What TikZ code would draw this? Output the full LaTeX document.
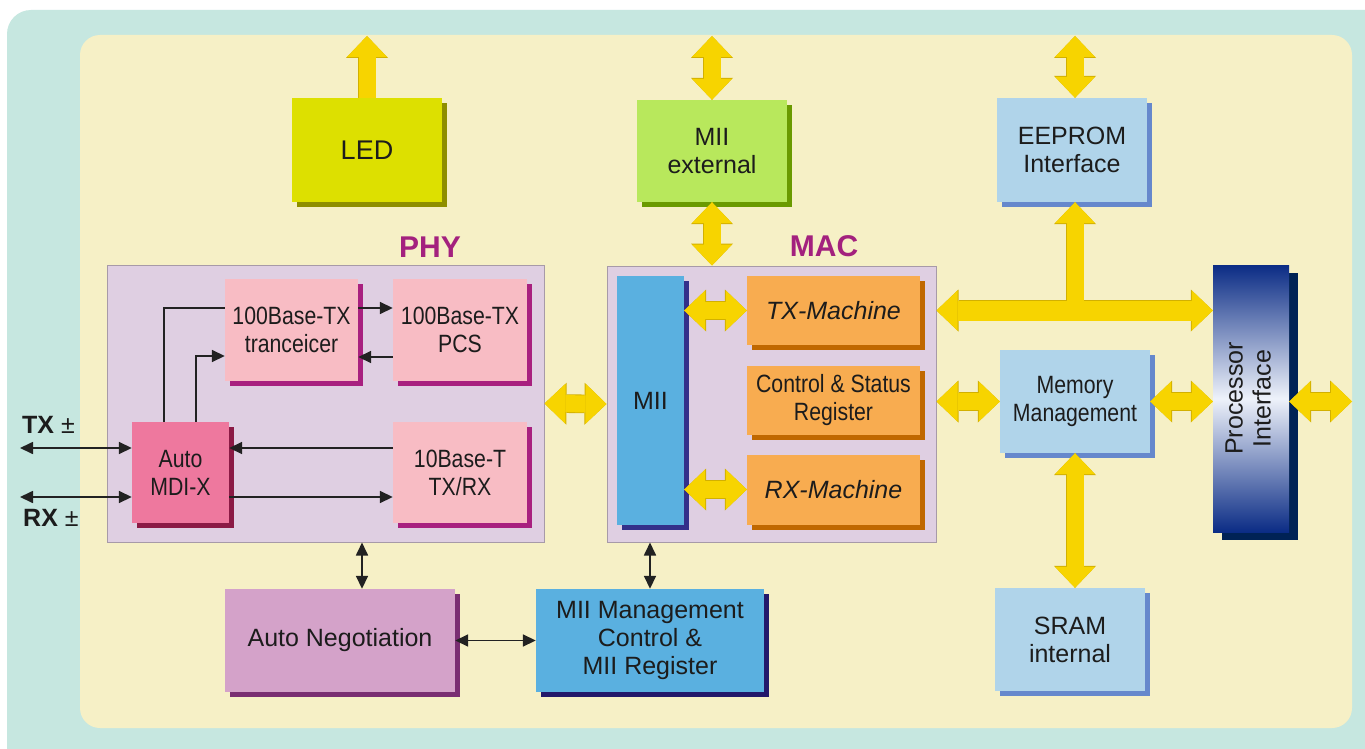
\documentclass[tikz,border=0pt]{standalone}
\usepackage{fontspec}
\setmainfont{Liberation Sans}
\newfontfamily\narrowfont{Liberation Sans}[FakeStretch=0.85]
\usetikzlibrary{arrows.meta,shadows}
\definecolor{tealbg}{HTML}{C6E7E0}
\definecolor{creambg}{HTML}{F6F0C6}
\definecolor{grpfill}{HTML}{DFCFE2}
\definecolor{grpline}{HTML}{A79AA8}
\definecolor{ledc}{HTML}{DDE000}
\definecolor{ledsh}{HTML}{8E8E00}
\definecolor{grnc}{HTML}{B8E85C}
\definecolor{grnsh}{HTML}{6A9A00}
\definecolor{ltblue}{HTML}{B0D4EA}
\definecolor{ltbluesh}{HTML}{6688CC}
\definecolor{pinkc}{HTML}{F8BCC4}
\definecolor{pinksh}{HTML}{A8207F}
\definecolor{mdic}{HTML}{EE789E}
\definecolor{mdish}{HTML}{8B1A45}
\definecolor{miic}{HTML}{5AB0E0}
\definecolor{miish}{HTML}{33308A}
\definecolor{orc}{HTML}{F8AC50}
\definecolor{orsh}{HTML}{C06800}
\definecolor{anegc}{HTML}{D4A2C9}
\definecolor{anegsh}{HTML}{7A2E72}
\definecolor{mgmtsh}{HTML}{23186A}
\definecolor{navy}{HTML}{0B2C85}
\definecolor{navysh}{HTML}{002255}
\definecolor{procmid}{HTML}{EEF2FA}
\definecolor{arrowY}{HTML}{F7D400}
\definecolor{arrowE}{HTML}{D2B000}
\definecolor{magc}{HTML}{A3217E}
\definecolor{textc}{HTML}{1C1C1C}
\definecolor{linec}{HTML}{222222}
\newcommand\fatconn[3]{\draw[fatedge,#1] #2 -- #3; \draw[fatline,#1] #2 -- #3;}
\begin{document}
\begin{tikzpicture}[x=1pt,y=-1pt,
  box/.style={draw=none, inner sep=0pt, align=center, text=textc,
    font=\fontsize{25}{28}\selectfont},
  nbox/.style={box, font=\narrowfont\fontsize{25}{28}\selectfont},
  shad/.style={general shadow={fill=#1, shadow xshift=5pt, shadow yshift=-5pt}},
  grp/.style={draw=grpline, line width=1pt, fill=grpfill, inner sep=0pt},
  fatline/.style={line width=17pt, draw=arrowY,
    >={Triangle[width=40pt,length=21pt,line width=0pt]}},
  fatedge/.style={line width=18.6pt, draw=arrowE,
    >={Triangle[width=42pt,length=22pt,line width=0pt]}},
  thinarr/.style={draw=linec, line width=1.7pt,
    >={Triangle[length=13pt,width=12pt]}},
  grplabel/.style={text=magc, font=\fontsize{30}{34}\selectfont\bfseries},
  extlabel/.style={text=textc, anchor=base west, inner sep=0pt, font=\fontsize{25}{28}\selectfont}
]
\path[use as bounding box] (0,0) rectangle (1365,749);
\clip (0,0) rectangle (1365,749);
\fill[white] (0,0) rectangle (1365,749);
\fill[tealbg, rounded corners=24pt] (7,10) rectangle (1420,800);
\fill[creambg, rounded corners=20pt] (80,35) rectangle (1352,728);

% free ends
\coordinate (topline) at (0,36);
\coordinate (rightline) at (1352,0);

% group boxes
\node[grp, minimum width=437pt, minimum height=277pt] (phy) at (325.5,403.5) {};
\node[grp, minimum width=329pt, minimum height=276pt] (mac) at (771.5,404) {};
\node[grplabel] (phyl) at (430,247) {PHY};
\node[grplabel] (macl) at (824,246) {MAC};

% top boxes
\node[box, fill=ledc, shad=ledsh, minimum width=150pt, minimum height=104pt, font=\fontsize{27}{30}\selectfont] (led) at (367,150) {LED};
\node[box, fill=grnc, shad=grnsh, minimum width=150pt, minimum height=102pt] (miiext) at (712,151) {MII\\external};
\node[box, fill=ltblue, shad=ltbluesh, minimum width=150pt, minimum height=104pt] (eeprom) at (1072,150) {EEPROM\\Interface};

% PHY internals
\node[nbox, fill=pinkc, shad=pinksh, minimum width=133pt, minimum height=102pt] (tranc) at (291.5,330) {100Base-TX\\tranceicer};
\node[nbox, fill=pinkc, shad=pinksh, minimum width=134pt, minimum height=102pt] (pcs) at (460,330) {100Base-TX\\PCS};
\node[nbox, fill=mdic, shad=mdish, minimum width=97pt, minimum height=101pt] (mdix) at (180.5,472.5) {Auto\\MDI-X};
\node[nbox, fill=pinkc, shad=pinksh, minimum width=134pt, minimum height=101pt] (tenb) at (460,472.5) {10Base-T\\TX/RX};

% MAC internals
\node[box, fill=miic, shad=miish, minimum width=67pt, minimum height=249pt] (mii) at (650.5,400.5) {MII};
\node[box, fill=orc, shad=orsh, minimum width=173pt, minimum height=69pt, font=\itshape\fontsize{25}{28}\selectfont] (txm) at (833.5,310.5) {TX-Machine};
\node[nbox, fill=orc, shad=orsh, minimum width=173pt, minimum height=69pt] (csr) at (833.5,400.5) {Control \& Status\\Register};
\node[box, fill=orc, shad=orsh, minimum width=173pt, minimum height=70pt, font=\itshape\fontsize{25}{28}\selectfont] (rxm) at (833.5,489.5) {RX-Machine};

% right side
\node[nbox, fill=ltblue, shad=ltbluesh, minimum width=150pt, minimum height=103pt] (mem) at (1075,401.5) {Memory\\Management};
\node[box, top color=navy, bottom color=navy, middle color=procmid,
  general shadow={fill=navysh, shadow xshift=9pt, shadow yshift=-8pt},
  minimum width=76pt, minimum height=267pt] (proc) at (1251,398.5)
  {\rotatebox{90}{\begin{tabular}{@{}c@{}}Processor\\Interface\end{tabular}}};
\node[box, fill=ltblue, shad=ltbluesh, minimum width=150pt, minimum height=103pt] (sram) at (1070,639.5) {SRAM\\internal};

% bottom boxes
\node[box, fill=anegc, shad=anegsh, minimum width=230pt, minimum height=103pt] (aneg) at (340,640.5) {Auto Negotiation};
\node[box, fill=miic, shad=mgmtsh, minimum width=228pt, minimum height=103pt] (mgmt) at (650,640.5) {MII Management\\Control \&\\MII Register};

% external labels
\node[extlabel] (txl) at (22,433) {\textbf{TX} ±};
\node[extlabel] (rxl) at (23,526) {\textbf{RX} ±};
\coordinate (txend) at (20,448);
\coordinate (rxend) at (20,497);

% thin connectors in PHY
\draw[thinarr] ([xshift=-16.5pt]mdix.north) |- ([yshift=22pt]tranc.west);
\draw[thinarr,->] ([xshift=15.5pt]mdix.north) |- ([yshift=-26pt]tranc.west);
\draw[thinarr,->] ([yshift=22pt]tranc.east) -- ([yshift=22pt]pcs.west);
\draw[thinarr,->] ([yshift=-27pt]pcs.west) -- ([yshift=-27pt]tranc.east);
\draw[thinarr,->] ([yshift=24.5pt]tenb.west) -- ([yshift=24.5pt]mdix.east);
\draw[thinarr,->] ([yshift=-24.5pt]mdix.east) -- ([yshift=-24.5pt]tenb.west);
\draw[thinarr,<->] (txend) -- (txend -| mdix.west);
\draw[thinarr,<->] (rxend) -- (rxend -| mdix.west);

% thin connectors bottom
\draw[thinarr,<->] ([xshift=22pt]aneg.north |- phy.south) -- ([xshift=22pt]aneg.north);
\draw[thinarr,<->] (mgmt.north |- mac.south) -- (mgmt.north);
\draw[thinarr,<->] (aneg.east) -- (mgmt.west);

% fat yellow arrows
\fatconn{->}{(led.north)}{(led.north |- topline)}
\fatconn{<->}{(miiext.north)}{(miiext.north |- topline)}
\fatconn{<->}{(miiext.south)}{(miiext.south |- mac.north)}
\fatconn{<->}{(eeprom.north -| mem.north)}{(mem.north |- topline)}
\fatconn{<->}{(phy.east)}{(mac.west)}
\fatconn{<->}{(mii.east |- txm.west)}{(txm.west)}
\fatconn{<->}{(mii.east |- rxm.west)}{(rxm.west)}
\fatconn{<->}{(mac.east |- mem.west)}{(mem.west)}
\fatconn{<->}{(mem.east)}{(proc.west |- mem.east)}
\fatconn{<->}{(proc.east |- mem.east)}{(rightline |- mem.east)}
\fatconn{<->}{(mem.south)}{(mem.south |- sram.north)}

% bus with stem
\coordinate (busj) at (mem.north |- txm.east);
\draw[fatedge, line width=21.6pt, <->] (mac.east |- txm.east) -- (proc.west |- txm.east);
\draw[fatedge, ->] (busj) -- (busj |- eeprom.south);
\draw[fatline, line width=20pt, <->] (mac.east |- txm.east) -- (proc.west |- txm.east);
\draw[fatline, ->] (busj) -- (busj |- eeprom.south);
\end{tikzpicture}
\end{document}
